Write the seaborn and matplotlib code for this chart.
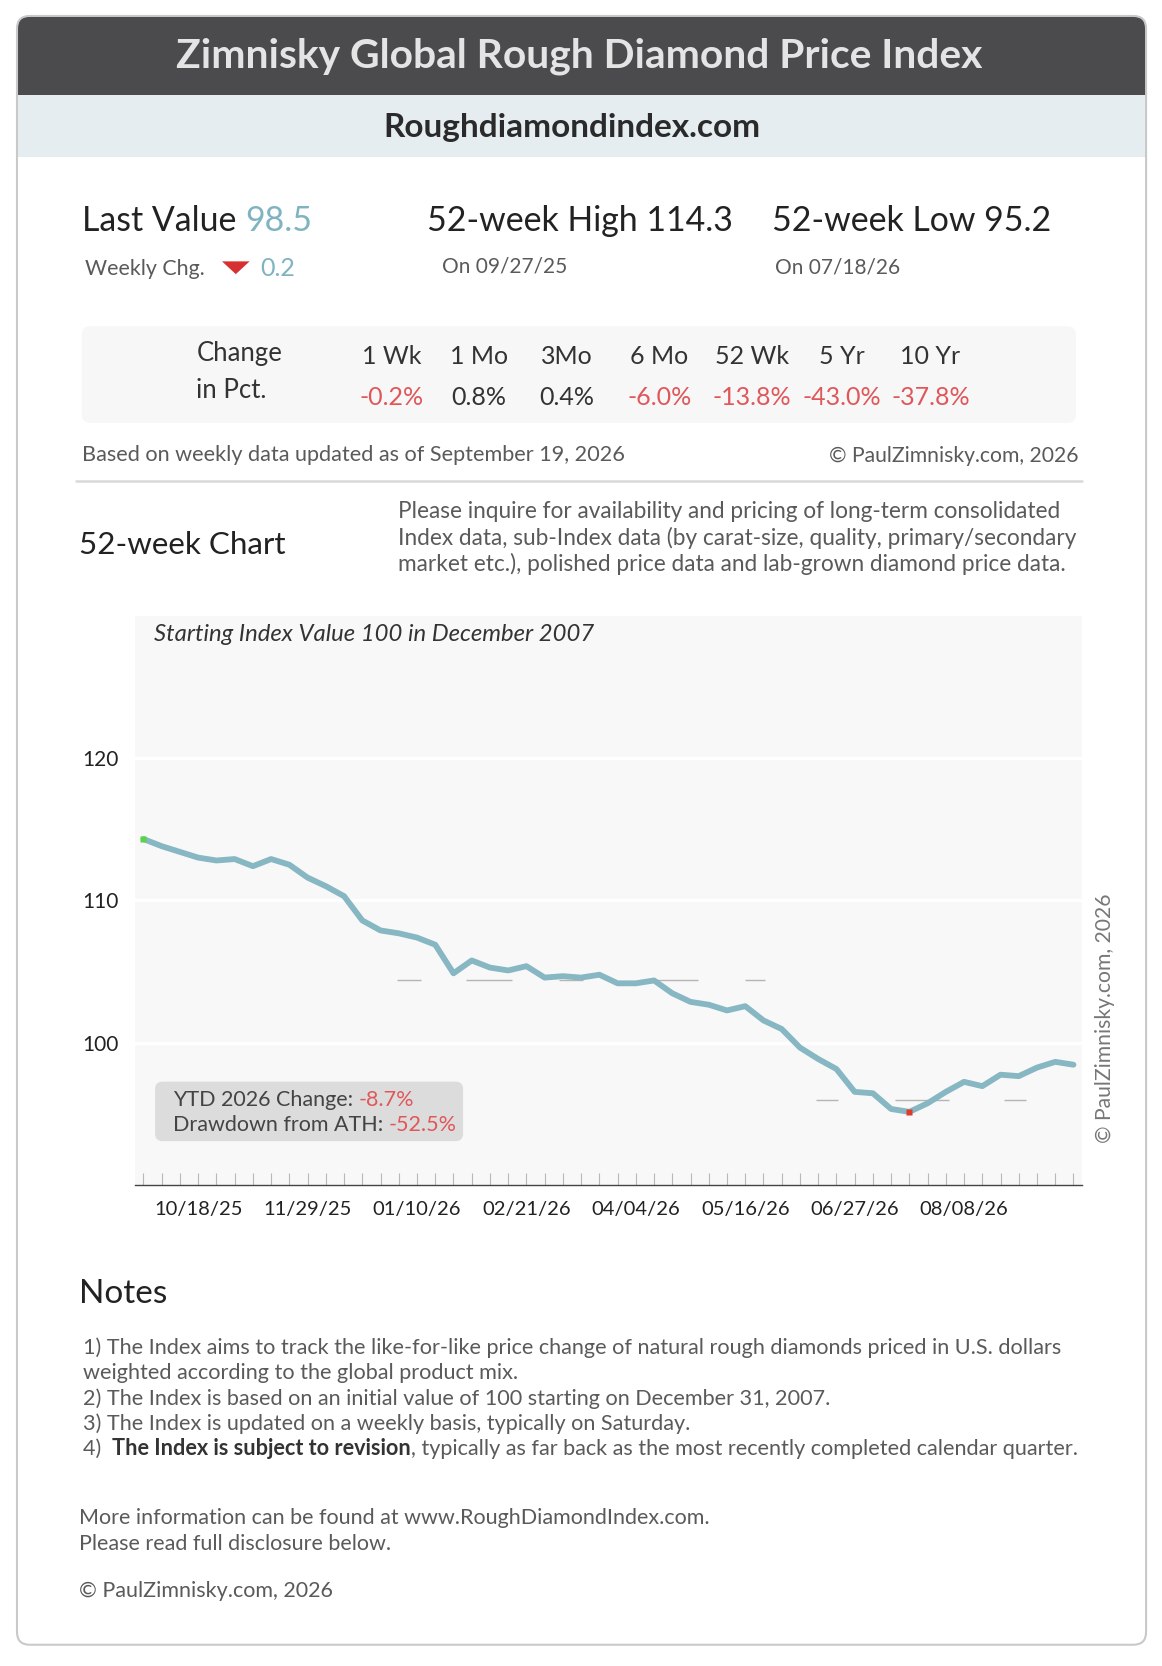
import numpy as np
import pandas as pd
import matplotlib
matplotlib.use("Agg")
import matplotlib.pyplot as plt
import matplotlib.dates as mdates
from matplotlib.patches import FancyBboxPatch, Rectangle, Polygon
from matplotlib.text import Annotation
from matplotlib.transforms import Affine2D
import seaborn as sns

# ---------------- data ----------------
start_date = "2025-09-27"
index_values = [114.3, 113.8, 113.4, 113.0, 112.8, 112.9, 112.4, 112.9, 112.5, 111.6,
                111.0, 110.3, 108.6, 107.9, 107.7, 107.4, 106.9, 104.9, 105.8, 105.3,
                105.1, 105.4, 104.6, 104.7, 104.6, 104.8, 104.2, 104.2, 104.4, 103.5,
                102.9, 102.7, 102.3, 102.6, 101.6, 101.0, 99.7, 98.9, 98.2, 96.6,
                96.5, 95.4, 95.2, 95.8, 96.6, 97.3, 97.0, 97.8, 97.7, 98.3,
                98.7, 98.5]
y_ticks = [100, 110, 120]
# faint reference dashes (level, start week, end week)
ref_levels = [104.4, 104.4, 104.4, 104.4, 104.4, 96.0, 96.0, 96.0]
ref_start_wk = [13.9, 17.7, 22.8, 27.9, 33.0, 36.9, 41.2, 47.2]
ref_end_wk = [15.2, 20.2, 24.1, 30.4, 34.1, 38.1, 44.2, 48.4]

title = "Zimnisky Global Rough Diamond Price Index"
subtitle = "Roughdiamondindex.com"
last_value = "98.5"
weekly_chg = "0.2"
high_52 = "114.3"
high_date = "09/27/25"
low_52 = "95.2"
low_date = "07/18/26"
period_labels = ["1 Wk", "1 Mo", "3Mo", "6 Mo", "52 Wk", "5 Yr", "10 Yr"]
period_changes = ["-0.2%", "0.8%", "0.4%", "-6.0%", "-13.8%", "-43.0%", "-37.8%"]
updated_text = "Based on weekly data updated as of September 19, 2026"
copyright_text = "\u00a9 PaulZimnisky.com, 2026"
inquiry_lines = ["Please inquire for availability and pricing of long-term consolidated",
                 "Index data, sub-Index data (by carat-size, quality, primary/secondary",
                 "market etc.), polished price data and lab-grown diamond price data."]
chart_note = "Starting Index Value 100 in December 2007"
ytd_change = "-8.7%"
drawdown = "-52.5%"
notes_lines = ["1) The Index aims to track the like-for-like price change of natural rough diamonds priced in U.S. dollars",
               "weighted according to the global product mix.",
               "2) The Index is based on an initial value of 100 starting on December 31, 2007.",
               "3) The Index is updated on a weekly basis, typically on Saturday."]
note4_bold = "The Index is subject to revision"
note4_rest = ", typically as far back as the most recently completed calendar quarter."
more_lines = ["More information can be found at www.RoughDiamondIndex.com.",
              "Please read full disclosure below."]

# ---------------- style ----------------
sns.set_theme(style="white")
FONT = ["Lato", "DejaVu Sans"]
plt.rcParams["font.family"] = FONT

DARK = "#222222"
GREY = "#5a5a5a"
TEAL = "#7fb3c1"
RED = "#e0575a"
LINE = "#86b7c3"

W, H = 1162, 1666
fig = plt.figure(figsize=(W / 100, H / 100), dpi=100)
fig.patch.set_facecolor("white")

# transform: reference layout units (1094 x 1568, y down) -> figure
sx, sy = W / 1094, H / 1568
T = Affine2D().scale(sx / 100, -sy / 100).translate(0, H / 100) + fig.dpi_scale_trans


def txt(x, y, s, **kw):
    kw.setdefault("va", "center")
    kw.setdefault("ha", "left")
    return fig.text(x, y, s, transform=T, **kw)


def after(prev, s, **kw):
    a = Annotation(s, xy=(1, 0), xycoords=prev, xytext=(0, 0), textcoords="offset points",
                   va="bottom", ha="left", annotation_clip=False, **kw)
    fig.add_artist(a)
    return a


# ---------------- card ----------------
hdr = FancyBboxPatch((16, 15), 1063, 110, boxstyle="round,pad=0,rounding_size=12",
                     transform=T, facecolor="#4b4b4d", edgecolor="none", zorder=1)
fig.add_artist(hdr)
band = Rectangle((16, 89), 1063, 59, transform=T, facecolor="#e6edf1", edgecolor="none", zorder=2)
fig.add_artist(band)
card = FancyBboxPatch((16, 15), 1063, 1533, boxstyle="round,pad=0,rounding_size=12",
                      transform=T, facecolor="none", edgecolor="#c9c9c9", linewidth=1.5, zorder=3)
fig.add_artist(card)

txt(545, 53, title, ha="center", fontsize=29.3, fontweight="bold", color="#e4e4e4", zorder=5)
txt(538, 120, subtitle, ha="center", fontsize=24, fontweight="bold", color="#2a2a2a", zorder=5)

# ---------------- headline numbers ----------------
t = txt(77, 208, "Last Value ", fontsize=24.4, color=DARK)
after(t, last_value, fontsize=24.4, color=TEAL)
txt(80, 253, "Weekly Chg.", fontsize=15.4, color=GREY)
fig.add_artist(Polygon([[209, 246], [235, 246], [222, 258]], closed=True, transform=T,
                       facecolor="#d63030", edgecolor="none"))
txt(245, 253, weekly_chg, fontsize=18, color=TEAL)

txt(402, 208, f"52-week High {high_52}", fontsize=24.4, color=DARK)
txt(416, 251, f"On {high_date}", fontsize=15, color=GREY)
txt(727, 208, f"52-week Low {low_52}", fontsize=24.4, color=DARK)
txt(730, 252, f"On {low_date}", fontsize=15, color=GREY)

# ---------------- change table ----------------
box = FancyBboxPatch((77, 307), 936, 91, boxstyle="round,pad=0,rounding_size=8",
                     transform=T, facecolor="#f7f7f7", edgecolor="none", zorder=1)
fig.add_artist(box)
txt(185, 333, "Change", fontsize=18.5, color="#333333")
txt(185, 368, "in Pct.", fontsize=18.5, color="#333333")
col_x = [369, 451, 534, 621, 708, 793, 876]
for cx, lab, val in zip(col_x, period_labels, period_changes):
    txt(cx, 336, lab, ha="center", fontsize=18, color="#333333")
    txt(cx, 374, val, ha="center", fontsize=18, color=RED if val.startswith("-") else "#333333")

txt(77, 428, updated_text, fontsize=15.6, color=GREY)
txt(1015, 429, copyright_text, ha="right", fontsize=15.2, color=GREY)
fig.add_artist(plt.Line2D([72, 1019], [453, 453], transform=T, color="#d9d9d9", lw=1.8))

txt(74, 513, "52-week Chart", fontsize=22.6, color=DARK)
for i, line in enumerate(inquiry_lines):
    txt(375, 481 + 25 * i, line, fontsize=16.3, color=GREY)

# ---------------- chart ----------------
L, R, TOP, BOT = 127, 1019, 580, 1115
ax = fig.add_axes([L / 1094, 1 - BOT / 1568, (R - L) / 1094, (BOT - TOP) / 1568])
ax.set_facecolor("#f8f8f8")

dates = pd.date_range(start_date, periods=len(index_values), freq="7D")
df = pd.DataFrame({"date": dates, "value": index_values})

ax.set_ylim(90.1, 129.9)
ax.set_xlim(dates[0] - pd.Timedelta(days=3.3), dates[-1] + pd.Timedelta(days=3.4))
ax.set_yticks(y_ticks)
ax.yaxis.grid(True, color="white", lw=2.2)
ax.set_axisbelow(True)

t0 = dates[0]
for lev, a, b in zip(ref_levels, ref_start_wk, ref_end_wk):
    ax.hlines(lev, t0 + pd.Timedelta(days=a * 7), t0 + pd.Timedelta(days=b * 7),
              color="#b5b5b5", lw=1.0, zorder=2)

sns.lineplot(data=df, x="date", y="value", ax=ax, color=LINE, lw=4.2, zorder=3)
imin = int(np.argmin(index_values))
ax.plot([dates[0]], [index_values[0]], marker="s", ms=4.8, color="#5ad447", mec="none", zorder=4)
ax.plot([dates[imin]], [index_values[imin]], marker="s", ms=4.8, color="#e03a2f", mec="none", zorder=4)

ax.set_xticks(dates[3:len(dates) - 1:6])
ax.xaxis.set_major_formatter(mdates.DateFormatter("%m/%d/%y"))
ax.set_xticks(dates, minor=True)
ax.tick_params(axis="x", which="both", direction="in", length=9, width=0.8, color="#b8b8b8",
               labelsize=14.5, labelcolor=DARK, pad=12, bottom=True)
ax.tick_params(axis="y", length=0, labelsize=15, labelcolor=DARK, pad=38)
for lab in ax.get_yticklabels():
    lab.set_horizontalalignment("left")
for s in ["top", "right", "left"]:
    ax.spines[s].set_visible(False)
ax.spines["bottom"].set_color("#444444")
ax.spines["bottom"].set_linewidth(1.0)
ax.set_xlabel("")
ax.set_ylabel("")

ax.text(0.0205, 0.968, chart_note, transform=ax.transAxes, fontsize=17.2, style="italic",
        color="#333333", va="center", ha="left")

# info box
ib = FancyBboxPatch((146, 1018), 290, 56, boxstyle="round,pad=0,rounding_size=7",
                    transform=T, facecolor="#dcdcdc", edgecolor="none", zorder=6)
fig.add_artist(ib)
t = txt(163, 1035, "YTD 2026 Change: ", fontsize=15.5, color="#444444", zorder=7)
after(t, ytd_change, fontsize=15.5, color=RED, zorder=7)
t = txt(163, 1059, "Drawdown from ATH: ", fontsize=15.5, color="#444444", zorder=7)
after(t, drawdown, fontsize=15.5, color=RED, zorder=7)

txt(1040, 958, copyright_text, ha="center", rotation=90, fontsize=15.2, color="#777777")

# ---------------- notes ----------------
txt(74, 1218, "Notes", fontsize=24, color=DARK)
for i, line in enumerate(notes_lines):
    txt(78, 1268 + 24 * i, line, fontsize=15.6, color=GREY)
t = txt(78, 1364, "4)  ", fontsize=15.6, color=GREY)
t = after(t, note4_bold, fontsize=15.6, color="#333333", fontweight="bold")
after(t, note4_rest, fontsize=15.6, color=GREY)
for i, line in enumerate(more_lines):
    txt(74, 1429 + 24 * i, line, fontsize=15.5, color=GREY)
txt(74, 1497, copyright_text, fontsize=15.5, color=GREY)

fig.savefig("out.png", dpi=100, facecolor="white")
